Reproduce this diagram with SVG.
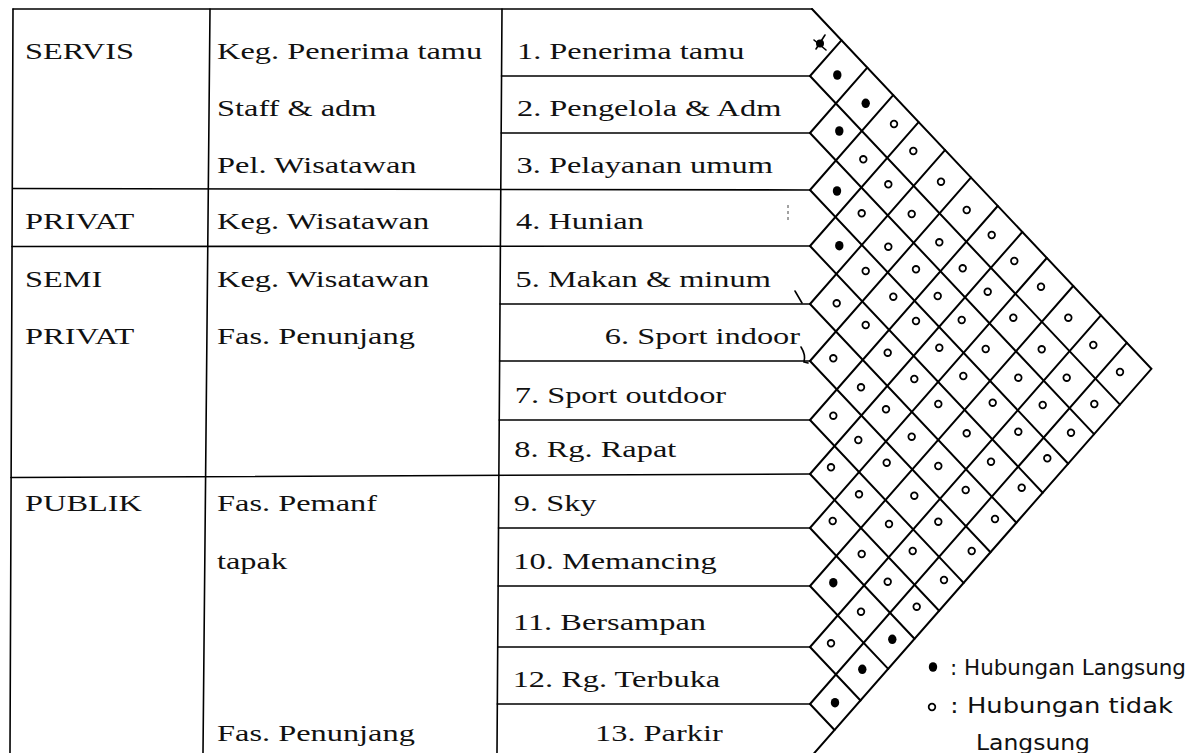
<svg xmlns="http://www.w3.org/2000/svg" width="1198" height="753" viewBox="0 0 1198 753">
<style>
.ln{stroke:#000;stroke-width:1.6;fill:none;stroke-linecap:round}
.gr{stroke:#000;stroke-width:2;fill:none;stroke-linecap:round}
.t{font-family:"Liberation Serif","Times New Roman",serif;font-size:22.5px;fill:#111}
.hw{font-family:"DejaVu Sans","Liberation Sans",sans-serif;font-size:21px;fill:#111}
.f{fill:#000}
.o{fill:none;stroke:#000;stroke-width:1.8}
</style>
<defs>
<ellipse id="dot" cx="0" cy="0" rx="4.2" ry="4.8" class="f"/>
<circle id="cir" cx="0" cy="0" r="3.3" class="o"/>
</defs>
<rect width="1198" height="753" fill="#fff"/>

<g id="table-lines">
<path class="ln" d="M13,9 L10,753 M210,9 L203,753 M502,9 L497,753"/>
<path class="ln" d="M13,9 L812,9 M13,188.5 L810,190 M12,246.5 L810,246 M11,477.5 L810,474"/>
<path class="ln" d="M501.5,76 L810,76 M501.2,133 L810,133 M500,304 L810,304 M499.6,361 L810,361 M499.2,420 L810,420 M498.5,528 L810,528 M498.1,586 L810,586 M497.7,647 L810,647 M497.3,704 L810,704"/>
</g>

<g transform="scale(1.44,1)">
<g id="zone-servis"><text class="t" x="17.4" y="59">SERVIS</text></g>
<g id="zone-privat"><text class="t" x="17.4" y="229">PRIVAT</text></g>
<g id="zone-semiprivat"><text class="t" x="17.4" y="287">SEMI</text><text class="t" x="17.4" y="344">PRIVAT</text></g>
<g id="zone-publik"><text class="t" x="17.4" y="511">PUBLIK</text></g>

<g id="group-labels">
<text class="t" x="150.7" y="59">Keg. Penerima tamu</text>
<text class="t" x="150.7" y="116">Staff &amp; adm</text>
<text class="t" x="150.7" y="173">Pel. Wisatawan</text>
<text class="t" x="150.7" y="229">Keg. Wisatawan</text>
<text class="t" x="150.7" y="287">Keg. Wisatawan</text>
<text class="t" x="150.7" y="344">Fas. Penunjang</text>
<text class="t" x="150.7" y="511">Fas. Pemanf</text>
<text class="t" x="150.7" y="569">tapak</text>
<text class="t" x="150.7" y="741">Fas. Penunjang</text>
</g>

<g id="room-1"><text class="t" x="359" y="59">1. Penerima tamu</text></g>
<g id="room-2"><text class="t" x="359" y="116">2. Pengelola &amp; Adm</text></g>
<g id="room-3"><text class="t" x="358.7" y="173">3. Pelayanan umum</text></g>
<g id="room-4"><text class="t" x="358.4" y="229">4. Hunian</text></g>
<g id="room-5"><text class="t" x="358" y="287">5. Makan &amp; minum</text></g>
<g id="room-6"><text class="t" x="555.6" y="344" text-anchor="end">6. Sport indoor</text></g>
<g id="room-7"><text class="t" x="357.5" y="403">7. Sport outdoor</text></g>
<g id="room-8"><text class="t" x="357.2" y="457">8. Rg. Rapat</text></g>
<g id="room-9"><text class="t" x="356.8" y="511">9. Sky</text></g>
<g id="room-10"><text class="t" x="356.5" y="569">10. Memancing</text></g>
<g id="room-11"><text class="t" x="356.2" y="630">11. Bersampan</text></g>
<g id="room-12"><text class="t" x="356" y="687">12. Rg. Terbuka</text></g>
<g id="room-13"><text class="t" x="413.2" y="741">13. Parkir</text></g>
</g>

<g id="connectors">
<path class="gr" d="M812,9 L1151.4,368.8 L804.7,764"/>
<path class="gr" d="M810,76 L1120,404.6 M810,133 L1094.1,434.1 M810,190 L1068.2,463.7 M810,246 L1042.7,492.7 M810,304 L1016.4,522.7 M810,361 L990.5,552.3 M810,420 L963.6,582.9 M810,474 L939.1,610.8 M810,528 L914.5,638.8 M810,586 L888.2,668.9 M810,647 L860.5,700.5 M810,704 L834.5,730"/>
<path class="gr" d="M810,76 L841.4,40.3 M810,133 L867.3,67.7 M810,190 L893.2,95.2 M810,246 L918.6,122.2 M810,304 L945,150.1 M810,361 L970.9,177.6 M810,420 L997.7,206 M810,474 L1022.3,232 M810,528 L1046.8,258 M810,586 L1073.2,286 M810,647 L1100.9,315.4 M810,704 L1126.8,342.8"/>
</g>

<g id="marks">
<circle cx="820" cy="43.5" r="4" class="f"/>
<path class="ln" d="M814,40 L826,50 M825,35 L816,49"/>
<path d="M788,205 L788,223" stroke="#444" stroke-width="1" stroke-dasharray="3,3"/>
<path class="ln" stroke-width="1.3" d="M795,291 L802,303"/>
<path class="ln" stroke-width="1.3" d="M801,347 Q806,355 804,362 L808,363"/>
</g>

<g id="filled-symbols">
<use href="#dot" x="837.3" y="75"/>
<use href="#dot" x="865.7" y="103.3"/>
<use href="#dot" x="839.3" y="131"/>
<use href="#dot" x="837" y="191"/>
<use href="#dot" x="839.3" y="245.7"/>
<use href="#dot" x="833.3" y="582.7"/>
<use href="#dot" x="892.3" y="639.3"/>
<use href="#dot" x="862.3" y="669.3"/>
<use href="#dot" x="835" y="702.7"/>
</g>

<g id="open-symbols">
<use href="#cir" x="894" y="124"/>
<use href="#cir" x="863.3" y="159.3"/>
<use href="#cir" x="913.3" y="151"/>
<use href="#cir" x="888.3" y="184.3"/>
<use href="#cir" x="941" y="181.7"/>
<use href="#cir" x="861.7" y="213.3"/>
<use href="#cir" x="911.7" y="214"/>
<use href="#cir" x="966.7" y="210"/>
<use href="#cir" x="888.3" y="246.7"/>
<use href="#cir" x="939.3" y="242.3"/>
<use href="#cir" x="991.7" y="235"/>
<use href="#cir" x="865.7" y="271"/>
<use href="#cir" x="916" y="269.3"/>
<use href="#cir" x="962.7" y="268.3"/>
<use href="#cir" x="1014.3" y="261"/>
<use href="#cir" x="836.7" y="303.3"/>
<use href="#cir" x="893.3" y="296.7"/>
<use href="#cir" x="937.7" y="296"/>
<use href="#cir" x="987.7" y="291.7"/>
<use href="#cir" x="1041" y="286.7"/>
<use href="#cir" x="865.7" y="325"/>
<use href="#cir" x="916" y="321"/>
<use href="#cir" x="961.7" y="320"/>
<use href="#cir" x="1013.3" y="317.7"/>
<use href="#cir" x="1068.3" y="317.7"/>
<use href="#cir" x="833.3" y="358.3"/>
<use href="#cir" x="887.7" y="352.7"/>
<use href="#cir" x="939.3" y="347.7"/>
<use href="#cir" x="985.7" y="349"/>
<use href="#cir" x="1041.7" y="349.3"/>
<use href="#cir" x="1093.3" y="345"/>
<use href="#cir" x="1120" y="372"/>
<use href="#cir" x="861" y="387.3"/>
<use href="#cir" x="914.3" y="379"/>
<use href="#cir" x="963.3" y="376"/>
<use href="#cir" x="1018.3" y="377.7"/>
<use href="#cir" x="1066.7" y="377.7"/>
<use href="#cir" x="833.3" y="415.7"/>
<use href="#cir" x="886" y="409.3"/>
<use href="#cir" x="938.3" y="404"/>
<use href="#cir" x="992.7" y="402.7"/>
<use href="#cir" x="1042.7" y="405"/>
<use href="#cir" x="1094.3" y="404"/>
<use href="#cir" x="858.3" y="440"/>
<use href="#cir" x="911.7" y="436.7"/>
<use href="#cir" x="966.7" y="433.3"/>
<use href="#cir" x="1018.3" y="431.7"/>
<use href="#cir" x="1071" y="432.7"/>
<use href="#cir" x="831" y="467.3"/>
<use href="#cir" x="886.7" y="462.7"/>
<use href="#cir" x="938.3" y="466"/>
<use href="#cir" x="991" y="461.7"/>
<use href="#cir" x="1047.3" y="458.3"/>
<use href="#cir" x="859" y="494.3"/>
<use href="#cir" x="914.3" y="495.7"/>
<use href="#cir" x="965.7" y="490"/>
<use href="#cir" x="1021.7" y="487.7"/>
<use href="#cir" x="832.7" y="521"/>
<use href="#cir" x="889" y="524"/>
<use href="#cir" x="938.3" y="521.7"/>
<use href="#cir" x="995" y="519"/>
<use href="#cir" x="861.7" y="554"/>
<use href="#cir" x="912.7" y="551"/>
<use href="#cir" x="971.7" y="551"/>
<use href="#cir" x="887.7" y="581.7"/>
<use href="#cir" x="944" y="580"/>
<use href="#cir" x="861" y="611.7"/>
<use href="#cir" x="916.7" y="606.7"/>
<use href="#cir" x="831" y="643.3"/>
</g>

<g id="legend">
<use href="#dot" x="933" y="667"/>
<text class="hw" x="950" y="675" textLength="236" lengthAdjust="spacingAndGlyphs">: Hubungan Langsung</text>
<use href="#cir" x="932" y="707"/>
<text class="hw" x="950" y="713" textLength="223" lengthAdjust="spacingAndGlyphs">: Hubungan tidak</text>
<text class="hw" x="976" y="750" textLength="114" lengthAdjust="spacingAndGlyphs">Langsung</text>
</g>
</svg>
